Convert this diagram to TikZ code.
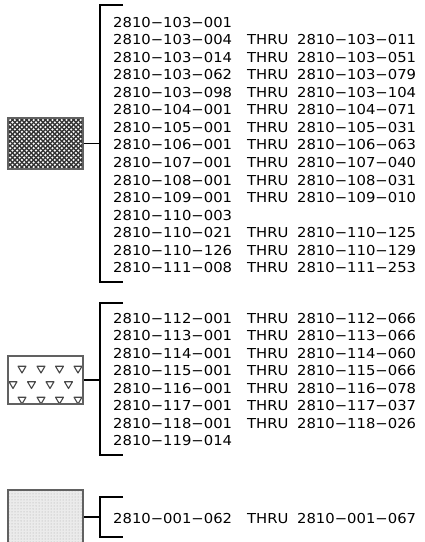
\documentclass[tikz,border=0pt]{standalone}
\usepackage{fontspec}
\newfontfamily\numfont[FakeStretch=1.08]{DejaVu Sans}
\usetikzlibrary{patterns}
\newcommand{\prow}[2]{\makebox[134pt][l]{#1}\makebox[50pt][l]{THRU}#2}
\tikzset{
  numtxt/.style={anchor=base west, inner sep=0pt, font=\numfont\fontsize{13.7}{16}\selectfont},
  legbox/.style={draw=black!62, line width=1.8pt, minimum width=75pt, inner sep=0pt},
  brk/.style={draw=black, line width=1.2pt},
  conn/.style={draw=black, line width=1.2pt},
  tri/.style={draw=black!72, line width=1.1pt, line join=round}
}
\begin{document}
\begin{tikzpicture}[x=1pt,y=-1pt]
\useasboundingbox[fill=white] (0,0) rectangle (425,542);
% ---- box A: crosshatch
\begin{scope}
  \clip (8,118) rectangle (83,169);
  \foreach \k in {-60,-55.3,...,100}{
    \draw[black!80, line width=1.35pt] (\k,118) -- ++(51,51);
    \draw[black!80, line width=1.35pt] (\k,169) -- ++(51,-51);
  }
\end{scope}
\node[legbox, minimum height=51pt] (boxA) at (45.5,143.5) {};
% ---- box B: triangles
\begin{scope}
  \clip (8,356) rectangle (83,404);
  \foreach \yy in {369.5,400.5}{
    \foreach \xx in {22,41,59.5,78}{
      \draw[tri] (\xx-4,\yy-3.3) -- (\xx+4,\yy-3.3) -- (\xx,\yy+3.5) -- cycle;
    }
  }
  \foreach \xx in {13,31.5,50,68.5}{
    \draw[tri] (\xx-4,385-3.3) -- (\xx+4,385-3.3) -- (\xx,385+3.5) -- cycle;
  }
\end{scope}
\node[legbox, minimum height=48pt] (boxB) at (45.5,380) {};
% ---- box C: dots
\node[legbox, minimum height=54pt, fill=black!8] (boxC) at (45.5,517) {};
\fill[pattern=dots, pattern color=black!35] (9,491) rectangle (82,542);
% ---- brackets
\coordinate (a1) at (123,5);   \coordinate (a2) at (100,5);
\coordinate (a3) at (100,282); \coordinate (a4) at (123,282);
\coordinate (aC) at (100,143.5);
\draw[brk] (a1) -- (a2) -- (a3) -- (a4);
\draw[conn] (boxA.east) -- (aC);
\coordinate (b1) at (123,303);   \coordinate (b2) at (100,303);
\coordinate (b3) at (100,455);   \coordinate (b4) at (123,455);
\coordinate (bC) at (100,380);
\draw[brk] (b1) -- (b2) -- (b3) -- (b4);
\draw[conn] (boxB.east) -- (bC);
\coordinate (c1) at (123,497);   \coordinate (c2) at (100,497);
\coordinate (c3) at (100,537);   \coordinate (c4) at (123,537);
\coordinate (cC) at (100,517);
\draw[brk] (c1) -- (c2) -- (c3) -- (c4);
\draw[conn] (boxC.east) -- (cC);
% ---- text block 1
\node[numtxt] (l1)  at (113,27.00)  {2810−103−001};
\node[numtxt] (l2)  at (113,44.57)  {\prow{2810−103−004}{2810−103−011}};
\node[numtxt] (l3)  at (113,62.14)  {\prow{2810−103−014}{2810−103−051}};
\node[numtxt] (l4)  at (113,79.71)  {\prow{2810−103−062}{2810−103−079}};
\node[numtxt] (l5)  at (113,97.28)  {\prow{2810−103−098}{2810−103−104}};
\node[numtxt] (l6)  at (113,114.85) {\prow{2810−104−001}{2810−104−071}};
\node[numtxt] (l7)  at (113,132.42) {\prow{2810−105−001}{2810−105−031}};
\node[numtxt] (l8)  at (113,149.99) {\prow{2810−106−001}{2810−106−063}};
\node[numtxt] (l9)  at (113,167.56) {\prow{2810−107−001}{2810−107−040}};
\node[numtxt] (l10) at (113,185.13) {\prow{2810−108−001}{2810−108−031}};
\node[numtxt] (l11) at (113,202.70) {\prow{2810−109−001}{2810−109−010}};
\node[numtxt] (l12) at (113,220.27) {2810−110−003};
\node[numtxt] (l13) at (113,237.84) {\prow{2810−110−021}{2810−110−125}};
\node[numtxt] (l14) at (113,255.41) {\prow{2810−110−126}{2810−110−129}};
\node[numtxt] (l15) at (113,272.98) {\prow{2810−111−008}{2810−111−253}};
% ---- text block 2
\node[numtxt] (m1) at (113,323.0) {\prow{2810−112−001}{2810−112−066}};
\node[numtxt] (m2) at (113,340.5) {\prow{2810−113−001}{2810−113−066}};
\node[numtxt] (m3) at (113,358.0) {\prow{2810−114−001}{2810−114−060}};
\node[numtxt] (m4) at (113,375.5) {\prow{2810−115−001}{2810−115−066}};
\node[numtxt] (m5) at (113,393.0) {\prow{2810−116−001}{2810−116−078}};
\node[numtxt] (m6) at (113,410.5) {\prow{2810−117−001}{2810−117−037}};
\node[numtxt] (m7) at (113,428.0) {\prow{2810−118−001}{2810−118−026}};
\node[numtxt] (m8) at (113,445.5) {2810−119−014};
% ---- text block 3
\node[numtxt] (n1) at (113,523.0) {\prow{2810−001−062}{2810−001−067}};
\end{tikzpicture}
\end{document}
